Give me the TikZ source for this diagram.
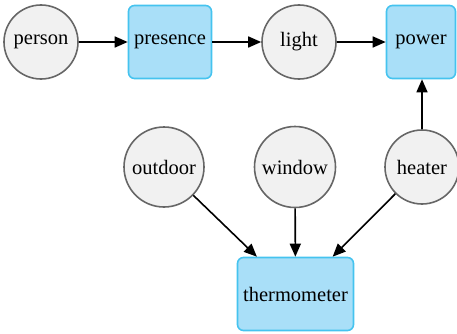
\documentclass[tikz,border=0pt]{standalone}
\usepackage{fontspec}
\setmainfont{Liberation Serif}
\usetikzlibrary{arrows.meta}
\definecolor{circfill}{HTML}{F1F1F1}
\definecolor{circline}{HTML}{666666}
\definecolor{boxfill}{HTML}{A9DFF8}
\definecolor{boxline}{HTML}{45C3EF}
\tikzset{
  var/.style={circle, draw=circline, fill=circfill, line width=1.6pt, minimum size=74pt, inner sep=0pt, font=\fontsize{20.5}{23}\selectfont},
  obs/.style={rectangle, rounded corners=6pt, draw=boxline, fill=boxfill, line width=1.6pt, minimum height=73pt, inner sep=0pt, font=\fontsize{20.5}{23}\selectfont},
  arr/.style={line width=1.6pt, -{Triangle[length=13pt,width=11pt]}}
}
\begin{document}
\begin{tikzpicture}[x=1pt,y=1pt]
\useasboundingbox (0,0) rectangle (457,333);
\node[var] (person) at (41,291) {person};
\node[obs, minimum width=83pt] (presence) at (170,291) {presence};
\node[var] (light) at (299,291) {light};
\node[obs, minimum width=69pt] (power) at (421,291) {power};
\node[var, minimum size=80pt] (outdoor) at (164,166) {outdoor};
\node[var, minimum size=81pt] (window) at (295,166) {window};
\node[var] (heater) at (422,166) {heater};
\node[obs, minimum width=116pt] (thermometer) at (295.5,39) {thermometer};
\draw[arr] (person) -- (presence);
\draw[arr] (presence) -- (light);
\draw[arr] (light) -- (power);
\draw[arr] (heater) -- (heater |- power.south);
\draw[arr] (outdoor) -- (thermometer);
\draw[arr] (window) -- (thermometer);
\draw[arr] (heater) -- (thermometer);
\end{tikzpicture}
\end{document}
